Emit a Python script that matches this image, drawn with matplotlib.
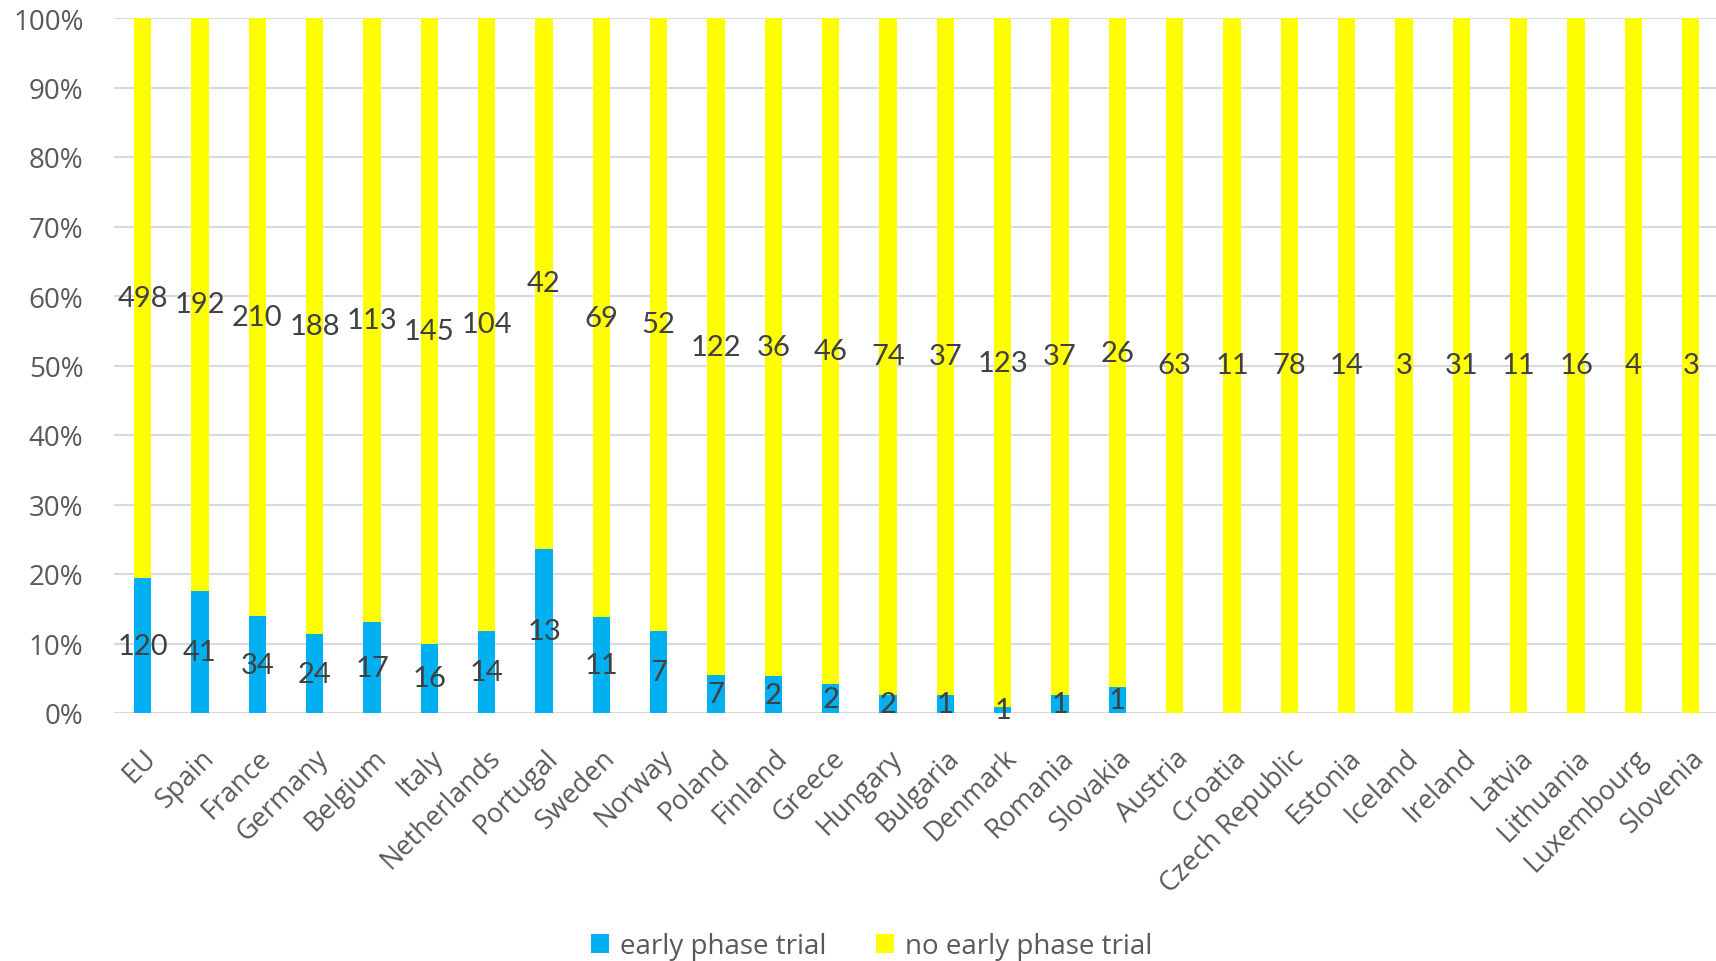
import numpy as np
import matplotlib.pyplot as plt

# data
countries = ["EU", "Spain", "France", "Germany", "Belgium", "Italy", "Netherlands",
             "Portugal", "Sweden", "Norway", "Poland", "Finland", "Greece", "Hungary",
             "Bulgaria", "Denmark", "Romania", "Slovakia", "Austria", "Croatia",
             "Czech Republic", "Estonia", "Iceland", "Ireland", "Latvia", "Lithuania",
             "Luxembourg", "Slovenia"]
early = [120, 41, 34, 24, 17, 16, 14, 13, 11, 7, 7, 2, 2, 2, 1, 1, 1, 1,
         0, 0, 0, 0, 0, 0, 0, 0, 0, 0]
no_early = [498, 192, 210, 188, 113, 145, 104, 42, 69, 52, 122, 36, 46, 74, 37, 123, 37, 26,
            63, 11, 78, 14, 3, 31, 11, 16, 4, 3]

early = np.array(early, dtype=float)
no_early = np.array(no_early, dtype=float)
total = early + no_early
early_pct = early / total * 100
no_pct = no_early / total * 100

blue = "#00B0F0"
yellow = "#FFFF00"
tick_col = "#595959"
lab_col = "#404040"

fig = plt.figure(figsize=(17.16, 9.62), dpi=100)
ax = fig.add_axes([114/1716, 1 - 714/962, 1 - 114/1716, (714 - 19)/962])

x = np.arange(len(countries))
w = 0.30
ax.bar(x, early_pct, width=w, color=blue, label="early phase trial", zorder=2)
ax.bar(x, no_pct, width=w, bottom=early_pct, color=yellow, label="no early phase trial", zorder=2)

# counts written in the middle of each segment
for i in range(len(countries)):
    if early[i] > 0:
        ax.text(x[i], early_pct[i] / 2, f"{int(early[i])}", ha="center", va="center",
                fontsize=21, color=lab_col, family="Lato", zorder=3)
    ax.text(x[i], early_pct[i] + no_pct[i] / 2, f"{int(no_early[i])}", ha="center", va="center",
            fontsize=21, color=lab_col, family="Lato", zorder=3)

ax.set_ylim(0, 100)
ax.set_xlim(-0.5, len(countries) - 1 + 0.44)
ax.set_yticks(np.arange(0, 101, 10))
ax.set_yticklabels([f"{v}%" for v in range(0, 101, 10)], family="Open Sans", fontsize=20, color=tick_col)
ax.set_xticks(x)
ax.set_xticklabels(countries, rotation=45, ha="right", rotation_mode="anchor",
                   family="Open Sans", fontsize=19.5, color=tick_col)
ax.tick_params(axis="both", length=0)
ax.tick_params(axis="y", pad=22)
ax.tick_params(axis="x", pad=22)
ax.grid(axis="y", color="#D9D9D9", linewidth=1.5, zorder=0)
ax.set_axisbelow(True)
for s in ax.spines.values():
    s.set_visible(False)

leg = fig.legend(loc="center", bbox_to_anchor=(0.508, 15/962), ncol=2, frameon=False,
                 prop={"family": "Open Sans", "size": 20}, handlelength=0.65, handleheight=0.65,
                 columnspacing=1.8, handletextpad=0.4)
for t in leg.get_texts():
    t.set_color(tick_col)

fig.savefig("out.png", dpi=100)
